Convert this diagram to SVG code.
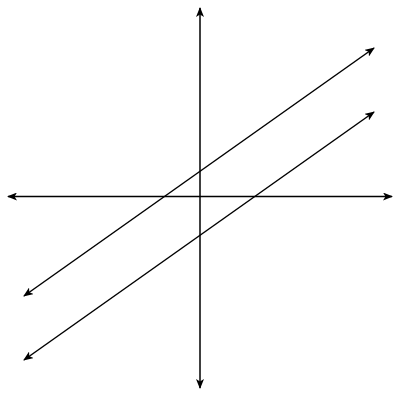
<svg xmlns="http://www.w3.org/2000/svg" width="400" height="400" viewBox="0 0 400 400">
<defs>
<marker id="ah" viewBox="0 0 10 8" refX="9" refY="4" markerWidth="10" markerHeight="8" markerUnits="userSpaceOnUse" orient="auto-start-reverse">
<path d="M0,0 L10,4 L0,8 L2.5,4 Z" fill="#000"/>
</marker>
<style>.ln{stroke:#000;stroke-width:1.5;fill:none;marker-start:url(#ah);marker-end:url(#ah)}</style>
</defs>
<rect width="400" height="400" fill="#fff"/>
<g id="connectors">
<line class="ln" x1="200" y1="8" x2="200" y2="388"/>
<line class="ln" x1="8" y1="196.5" x2="392" y2="196.5"/>
<line class="ln" x1="24" y1="296" x2="374" y2="48"/>
<line class="ln" x1="24" y1="360" x2="374" y2="112"/>
</g>
</svg>
